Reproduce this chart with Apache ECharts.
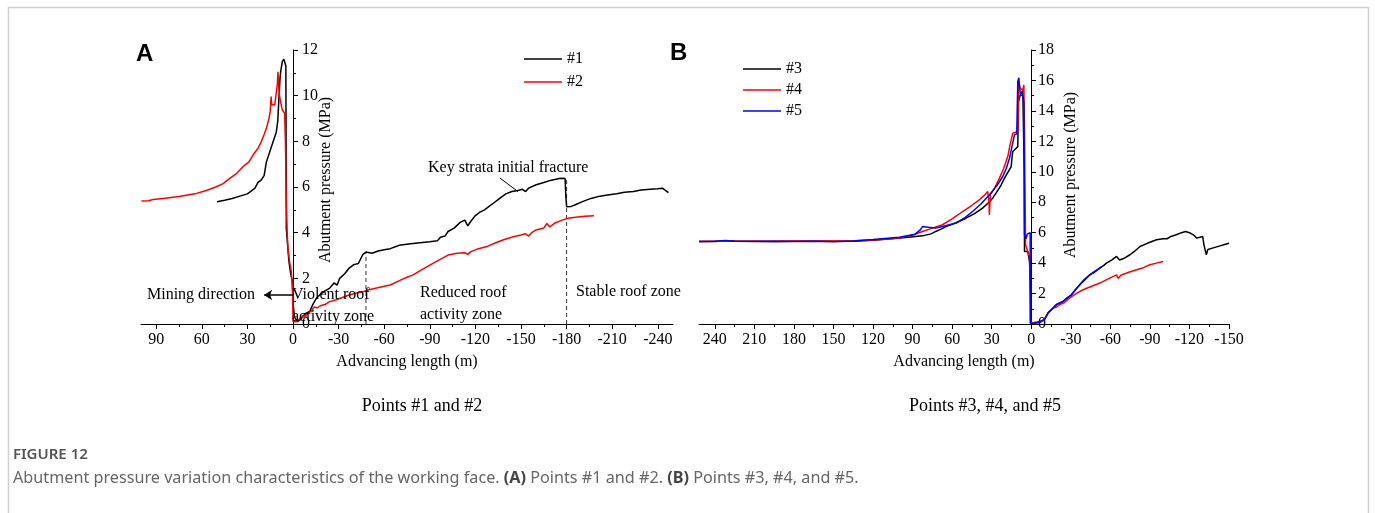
<!DOCTYPE html>
<html><head><meta charset="utf-8">
<script src="https://cdn.jsdelivr.net/npm/echarts@6/dist/echarts.min.js"></script>
<style>html,body{margin:0;padding:0;background:#fff;}#c{width:1375px;height:513px;}</style>
</head><body><div id="c"></div>
<script>
// ---- Panel A data: [advancing length (m), abutment pressure (MPa)]
const pointA1 = [[50,5.35],[45,5.42],[40,5.5],[35,5.6],[30,5.7],[28,5.8],[25,5.95],[23,6.2],[21,6.3],[19,6.5],[17.5,7.1],[15,7.6],[13,8.0],[11,8.4],[10,8.9],[9.4,9.7],[8.5,10.8],[8,11.1],[7,11.5],[6,11.6],[5,11.6],[4.7,11.3],[4.4,4.2],[3.5,3.4],[2.6,2.7],[1.5,2.2],[0.4,1.85],[0,0.9],[-1,0.3],[-3,0.1],[-5,0.2],[-8,0.45],[-11,0.55],[-13,0.85],[-15.4,1.13],[-18,1.3],[-21,1.45],[-24,1.56],[-27,1.8],[-29,1.7],[-30.7,2.0],[-34,2.2],[-37,2.45],[-40,2.6],[-43,2.65],[-46,3.05],[-48,3.15],[-52,3.1],[-56,3.2],[-60,3.25],[-64,3.3],[-70,3.45],[-76,3.5],[-82,3.55],[-90,3.6],[-95,3.65],[-97,3.8],[-100,3.85],[-102,4.05],[-106,4.2],[-110,4.45],[-113,4.55],[-115,4.3],[-117,4.5],[-120,4.75],[-123,4.9],[-126,5.0],[-129,5.15],[-132,5.3],[-136,5.5],[-140,5.7],[-144,5.8],[-148,5.85],[-151,5.9],[-153,5.8],[-155,5.95],[-160,6.1],[-165,6.2],[-170,6.3],[-176,6.38],[-179,6.37],[-179.5,5.6],[-180,5.14],[-183,5.15],[-185,5.2],[-190,5.35],[-196,5.5],[-202,5.6],[-207,5.65],[-213,5.7],[-218,5.77],[-224,5.8],[-229,5.87],[-235,5.9],[-240,5.92],[-243,5.95],[-245,5.85],[-247,5.75]];
const pointA2 = [[99.7,5.39],[95,5.4],[92,5.45],[85.5,5.5],[75,5.58],[63.5,5.72],[57,5.85],[50.4,6.01],[46,6.15],[41.6,6.38],[37,6.6],[32.9,6.89],[29,7.1],[26.3,7.4],[23,7.7],[20.8,7.99],[19,8.3],[17.5,8.57],[15.8,9.0],[15,9.3],[14.4,9.96],[14,9.6],[12,9.6],[11,9.65],[10.3,10.5],[9.9,11.05],[9.3,10.3],[8.75,9.96],[7.5,9.5],[7,9.37],[5.5,9.23],[5,8.0],[4.4,5.36],[3.8,4.0],[3.3,3.3],[2.2,2.7],[1.1,2.29],[0.3,1.5],[0,0.1],[-2.2,0.1],[-4,0.2],[-6,0.35],[-8,0.3],[-10,0.5],[-12,0.55],[-14,0.75],[-16,0.7],[-18,0.8],[-21,0.85],[-24,0.98],[-28,1.05],[-32,1.15],[-36,1.25],[-41,1.35],[-46,1.41],[-50,1.5],[-55,1.58],[-60,1.65],[-64,1.71],[-70,1.9],[-75,2.05],[-79,2.15],[-84,2.35],[-90,2.58],[-96,2.8],[-102,3.02],[-108,3.1],[-113,3.12],[-115,3.05],[-117,3.17],[-122,3.3],[-127.6,3.39],[-133,3.55],[-139,3.7],[-145,3.82],[-150,3.9],[-153,3.95],[-155,3.85],[-157,4.0],[-160,4.12],[-165,4.2],[-167,4.4],[-169,4.25],[-172,4.41],[-177,4.55],[-181,4.63],[-186,4.68],[-192,4.72],[-198,4.74]];
// zone boundaries (x, top y)
const zoneLineA1 = [[-48,0],[-48,3.15]];
const zoneLineA2 = [[-180,0],[-180,6.37]];

// ---- Panel B data
const pointB3 = [[252,5.42],[240,5.42],[232,5.47],[225,5.45],[210,5.44],[195,5.42],[180,5.43],[165,5.43],[150,5.43],[135,5.44],[120,5.5],[108,5.58],[95,5.68],[82.5,5.79],[76,5.92],[72.4,6.08],[68,6.25],[64.7,6.4],[57,6.65],[49.5,6.95],[43,7.25],[36.9,7.61],[32,8.0],[29,8.3],[26.7,8.6],[23,9.1],[20.3,9.58],[17.5,10.0],[15.2,10.34],[14.5,11.0],[14,11.33],[12,11.5],[10.2,11.65],[9.9,13.5],[9.7,14.6],[8.5,15.0],[7.6,15.16],[6.4,15.37],[5.8,15.3],[5.3,10],[5.1,4.77],[2.6,4.77],[1.3,4.1],[0.5,2],[0.2,0.05],[-3,0.1],[-6.3,0.15],[-10,0.3],[-12.7,0.72],[-16,1.0],[-19,1.27],[-24,1.48],[-27,1.7],[-30.5,1.92],[-34,2.3],[-36.8,2.58],[-40,2.85],[-44.4,3.23],[-48,3.4],[-52,3.67],[-55,3.85],[-57,4.0],[-61,4.2],[-64.7,4.44],[-67,4.2],[-70,4.3],[-74.9,4.55],[-78,4.75],[-82.5,5.09],[-88,5.3],[-95,5.53],[-100,5.6],[-103,5.6],[-106,5.75],[-110,5.86],[-114,6.0],[-117,6.08],[-120,6.0],[-123,5.86],[-125.6,5.64],[-128,5.7],[-130,5.75],[-131,5.2],[-132.8,4.55],[-134,4.9],[-138,5.0],[-142,5.1],[-146,5.2],[-150,5.3]];
const pointB4 = [[252,5.42],[240,5.43],[225,5.44],[210,5.43],[195,5.44],[180,5.45],[165,5.46],[150,5.45],[135,5.47],[120,5.52],[100,5.65],[90,5.85],[82.5,6.08],[75,6.3],[67.3,6.52],[60,6.9],[52,7.39],[45,7.8],[39.4,8.16],[35,8.5],[33,8.7],[32,8.0],[31.8,7.17],[31,8.5],[28,8.9],[24.1,9.58],[21,10.2],[17.8,11.0],[16,11.8],[14,12.53],[12,12.6],[10.2,12.64],[9.8,14.5],[9.4,15.9],[8.5,15.5],[7.5,15.4],[6.4,15.37],[5.6,15.7],[5.2,13],[4.3,5.2],[3,5.3],[1.3,4.4],[0.8,3],[0.5,0.05],[-3,0.1],[-6.3,0.12],[-10,0.3],[-13,0.75],[-16.5,1.05],[-19,1.1],[-21.6,1.27],[-25,1.4],[-29,1.7],[-34,2.0],[-39.3,2.25],[-45,2.45],[-52,2.69],[-58,2.95],[-64.7,3.23],[-66,3.0],[-68,3.2],[-74,3.4],[-80,3.56],[-85,3.7],[-90,3.89],[-95,4.0],[-100,4.11]];
const pointB5 = [[252,5.42],[240,5.44],[232,5.48],[225,5.44],[210,5.42],[195,5.43],[180,5.42],[165,5.44],[150,5.4],[135,5.45],[120,5.55],[100,5.7],[88,5.9],[84,6.2],[82.5,6.4],[78,6.35],[72.4,6.3],[65,6.45],[57,6.63],[50,7.0],[44.5,7.39],[38,7.9],[31.8,8.48],[26,9.1],[21.6,9.69],[19,10.2],[16.5,10.89],[14.5,11.7],[12.7,12.42],[11,12.5],[10.2,15.92],[9.4,16.18],[8.8,15.5],[8.1,15.04],[6.4,15.0],[5.5,14.5],[5.1,5.86],[4,5.6],[3,5.9],[1.5,6.0],[0.8,6.0],[0.7,0.05],[-3,0.05],[-6.3,0.1],[-10,0.28],[-12.7,0.72],[-16,1.0],[-19,1.27],[-24,1.48],[-27,1.7],[-30.5,1.92],[-34,2.3],[-36.8,2.58],[-40,2.9],[-44.4,3.23],[-48,3.45],[-52,3.67],[-53,3.75]];

// ---- Tick labels
const xTicksA = [90,60,30,0,-30,-60,-90,-120,-150,-180,-210,-240];
const xMinorA = [75,45,15,-15,-45,-75,-105,-135,-165,-195,-225];
const xTicksB = [240,210,180,150,120,90,60,30,0,-30,-60,-90,-120,-150];
const xMinorB = [225,195,165,135,105,75,45,15,-15,-45,-75,-105,-135];

const SERIF = '"Liberation Serif", "Times New Roman", serif';
const chart = echarts.init(document.getElementById('c'), null, {renderer: 'canvas'});

// grid geometry
const GA = {left: 141, width: 532, min: -250, max: 100};
const GB = {left: 699, width: 530, min: -150, max: 252};
// pixel offset of x = 0 from grid left (y-axis sits on x = 0)
function zeroOffset(g) { return g.width * (g.max - 0) / (g.max - g.min); }

function grid(g) {
  return {left: g.left, top: 50, width: g.width, height: 274, outerBoundsMode: 'none', containLabel: false};
}
function mainX(gi, g, ticks) {
  return {
    gridIndex: gi, type: 'value', min: g.min, max: g.max, inverse: true,
    axisLine: {show: true, onZero: false, lineStyle: {color: '#000', width: 1}},
    axisTick: {show: true, customValues: ticks, length: 5, lineStyle: {color: '#000', width: 1}},
    axisLabel: {show: true, customValues: ticks, margin: 8, color: '#000', fontFamily: SERIF, fontSize: 16},
    splitLine: {show: false}, minorTick: {show: false},
    name: 'Advancing length (m)', nameLocation: 'middle', nameGap: 30,
    nameTextStyle: {color: '#000', fontFamily: SERIF, fontSize: 16}
  };
}
function minorX(gi, g, ticks) {
  return {
    gridIndex: gi, type: 'value', min: g.min, max: g.max, inverse: true,
    axisLine: {show: false, onZero: false},
    axisTick: {show: true, customValues: ticks, length: 3, lineStyle: {color: '#000', width: 1}},
    axisLabel: {show: false}, splitLine: {show: false}
  };
}
function mainY(gi, g, max, margin) {
  return {
    gridIndex: gi, type: 'value', min: 0, max: max, interval: 2, position: 'left',
    offset: -Math.round(zeroOffset(g)),
    axisLine: {show: true, onZero: false, lineStyle: {color: '#000', width: 1}},
    axisTick: {show: true, inside: true, length: 5, lineStyle: {color: '#000', width: 1}},
    minorTick: {show: true, splitNumber: 2, length: 3, lineStyle: {color: '#000', width: 1}},
    axisLabel: {show: true, inside: true, margin: margin, color: '#000', fontFamily: SERIF, fontSize: 16},
    splitLine: {show: false}
  };
}
function hiddenY(gi, max) {
  return {gridIndex: gi, type: 'value', min: 0, max: max, show: false, splitLine: {show: false}};
}
function curve(name, data, color, xi, yi, extra) {
  return Object.assign({
    name: name, type: 'line', data: data, xAxisIndex: xi, yAxisIndex: yi,
    symbol: 'none', showSymbol: false, smooth: false, silent: true,
    lineStyle: {color: color, width: 1.5}, itemStyle: {color: color}, z: 3
  }, extra || {});
}
function dashed(name, data) {
  return {
    name: name, type: 'line', data: data, xAxisIndex: 0, yAxisIndex: 0,
    symbol: 'none', silent: true, z: 2,
    lineStyle: {color: '#333', width: 1, type: [4, 3]}
  };
}
function txt(text, x, y, opts) {
  return {type: 'text', x: x, y: y, z: 100, silent: true,
    style: Object.assign({text: text, font: '16px ' + SERIF, fill: '#000', align: 'left', verticalAlign: 'middle'}, opts || {})};
}
function legend(names, left, top, gap) {
  return {data: names, orient: 'vertical', left: left, top: top, icon: 'rect',
    itemWidth: 38, itemHeight: 1.5, itemGap: gap, selectedMode: false,
    textStyle: {color: '#000', fontFamily: SERIF, fontSize: 16}};
}

const captionParts = [
  ['Abutment pressure variation characteristics of the working face. ', false],
  ['(A)', true], [' Points #1 and #2. ', false], ['(B)', true], [' Points #3, #4, and #5.', false]
];
const CAP_FONT = 16.2;
const cv = document.createElement('canvas').getContext('2d');
let cx = 13; const captionEls = [];
captionParts.forEach(function (p) {
  const f = (p[1] ? 'bold ' : '') + CAP_FONT + 'px "Noto Sans", sans-serif';
  cv.font = f;
  captionEls.push({type: 'text', x: cx, y: 478, z: 100, silent: true,
    style: {text: p[0], font: f, fill: p[1] ? '#444' : '#666', align: 'left', verticalAlign: 'middle'}});
  cx += cv.measureText(p[0]).width;
});

const yTitleA = txt('Abutment pressure (MPa)', 326, 180, {align: 'center'});
const yTitleB = txt('Abutment pressure (MPa)', 1071, 175, {align: 'center'});
yTitleA.rotation = Math.PI / 2;
yTitleB.rotation = Math.PI / 2;

const option = {
  animation: false,
  backgroundColor: '#fff',
  grid: [grid(GA), grid(GA), grid(GB), grid(GB)],
  xAxis: [mainX(0, GA, xTicksA), minorX(1, GA, xMinorA), mainX(2, GB, xTicksB), minorX(3, GB, xMinorB)],
  yAxis: [mainY(0, GA, 12, 9), hiddenY(1, 12), mainY(2, GB, 18, 7), hiddenY(3, 18)],
  legend: [legend(['#1', '#2'], 519, 46, 7), legend(['#3', '#4', '#5'], 738, 56, 5)],
  series: [
    curve('#1', pointA1, '#000000', 0, 0, {
      markLine: {silent: true, symbol: ['none', 'arrow'], symbolSize: 8, animation: false,
        label: {show: false}, lineStyle: {color: '#000', width: 1.5, type: 'solid'},
        data: [[{coord: [0, 1.27]}, {coord: [19, 1.27]}]]}
    }),
    curve('#2', pointA2, '#ff0000', 0, 0),
    dashed('zone boundary 1', zoneLineA1),
    dashed('zone boundary 2', zoneLineA2),
    {name: 'leader', type: 'line', data: [], xAxisIndex: 0, yAxisIndex: 0,
     markLine: {silent: true, symbol: ['none', 'none'], animation: false, label: {show: false},
       lineStyle: {color: '#000', width: 1, type: 'solid'},
       data: [[{coord: [-136, 6.4]}, {coord: [-148, 5.8]}]]}},
    curve('#3', pointB3, '#000000', 2, 2),
    curve('#4', pointB4, '#ff0000', 2, 2),
    curve('#5', pointB5, '#0000ff', 2, 2)
  ],
  graphic: [
    {type: 'rect', z: 0, silent: true, shape: {x: 8.5, y: 7.5, width: 1360, height: 530},
     style: {fill: 'none', stroke: '#d0d0d0', lineWidth: 1.5}},
    txt('A', 136, 54, {font: 'bold 24px "Liberation Sans", Arial, sans-serif'}),
    txt('B', 670, 53, {font: 'bold 24px "Liberation Sans", Arial, sans-serif'}),
    yTitleA, yTitleB,
    txt('Mining direction', 147, 295),
    txt('Violent roof', 292, 295),
    txt('activity zone', 292, 317),
    txt('Reduced roof', 420, 293),
    txt('activity zone', 420, 315),
    txt('Stable roof zone', 576, 292),
    txt('Key strata initial fracture', 428, 168),
    txt('Points #1 and #2', 422, 406, {align: 'center', font: '18px ' + SERIF}),
    txt('Points #3, #4, and #5', 985, 406, {align: 'center', font: '18px ' + SERIF}),
    txt('FIGURE 12', 13, 455, {font: '600 15px "Noto Sans", sans-serif', fill: '#555'})
  ].concat(captionEls)
};
chart.setOption(option);
</script>
</body></html>
